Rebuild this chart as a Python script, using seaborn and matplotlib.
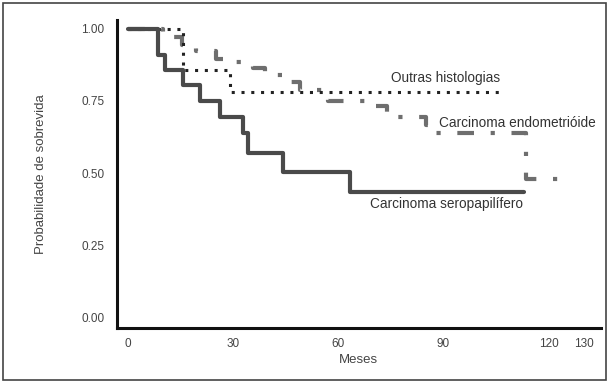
import numpy as np
import pandas as pd
import seaborn as sns
import matplotlib.pyplot as plt
from matplotlib.patches import Rectangle

# Kaplan-Meier curves (months, survival)
sero_t = [0, 8.6, 10.6, 15.7, 20.6, 26.3, 32.9, 34.3, 44.3, 63.4, 113]
sero_s = [1.0, 0.910, 0.858, 0.806, 0.751, 0.696, 0.640, 0.571, 0.505, 0.436, 0.436]

outras_t = [0, 15.7, 29.1, 106]
outras_s = [1.0, 0.858, 0.782, 0.782]

endo_t = [0, 10, 15.5, 19.5, 25, 30, 35.5, 39, 44.5, 49, 57, 68, 74, 85, 88, 113.5, 124]
endo_s = [1.0, 0.972, 0.945, 0.924, 0.896, 0.886, 0.865, 0.841, 0.817, 0.789,
          0.751, 0.734, 0.694, 0.668, 0.640, 0.481, 0.481]

x_ticks = [0, 30, 60, 90, 120, 130]
y_ticks = [0.00, 0.25, 0.50, 0.75, 1.00]

sns.set_style("white")
plt.rcParams['font.family'] = ['Liberation Sans', 'DejaVu Sans']

fig = plt.figure(figsize=(6.09, 3.84), dpi=100)
ax = fig.add_axes([0.192, 0.146, 0.795, 0.802])

sero = pd.DataFrame({'t': sero_t, 's': sero_s})
outras = pd.DataFrame({'t': outras_t, 's': outras_s})
endo = pd.DataFrame({'t': endo_t, 's': endo_s})

sns.lineplot(data=endo, x='t', y='s', ax=ax, drawstyle='steps-post', color='#6e6e6e',
             lw=3, linestyle=(0, (4, 4, 1, 4)), estimator=None)
sns.lineplot(data=outras, x='t', y='s', ax=ax, drawstyle='steps-post', color='#222222',
             lw=2.2, linestyle=(0, (1, 2.2)), estimator=None)
sns.lineplot(data=sero, x='t', y='s', ax=ax, drawstyle='steps-post', color='#4a4a4a',
             lw=3, estimator=None)

ax.text(90.6, 0.83, 'Outras histologias', ha='center', va='center', fontsize=9.8, color='#333333')
ax.text(88.6, 0.675, 'Carcinoma endometrióide', ha='left', va='center', fontsize=9.8, color='#333333')
ax.text(69, 0.394, 'Carcinoma seropapilífero', ha='left', va='center', fontsize=9.8, color='#333333')

ax.set_xlim(-3.2, 135)
ax.set_ylim(-0.035, 1.03)
ax.set_xticks(x_ticks)
ax.set_yticks(y_ticks)
ax.set_yticklabels([f'{v:.2f}' for v in y_ticks])
ax.tick_params(axis='both', direction='out', length=6, width=0.8, color='#999999',
               labelsize=8.5, labelcolor='#444444', pad=3)
ax.tick_params(axis='x', length=4, pad=3)

for side in ['top', 'right']:
    ax.spines[side].set_visible(False)
for side in ['left', 'bottom']:
    ax.spines[side].set_linewidth(2.2)
    ax.spines[side].set_color('#111111')

ax.set_xlabel('Meses', fontsize=9.5, color='#444444')
ax.xaxis.set_label_coords(0.498, -0.085)
ax.set_ylabel('Probabilidade de sobrevida', fontsize=9.5, color='#444444')
ax.yaxis.set_label_coords(-0.145, 0.5)

fig.patches.append(Rectangle((0.005, 0.01), 0.99, 0.982, transform=fig.transFigure,
                             fill=False, edgecolor='#444444', lw=1.2))

fig.savefig('out.png', dpi=100)
